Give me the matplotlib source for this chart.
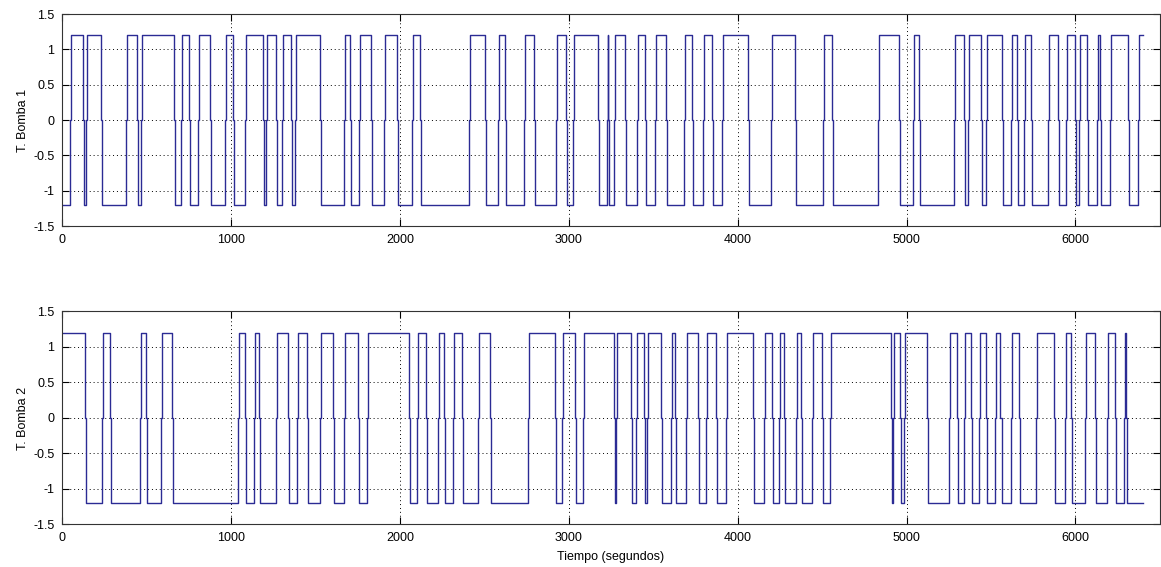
import numpy as np
import matplotlib.pyplot as plt

plt.rcParams["font.family"] = ["Liberation Sans", "DejaVu Sans"]

# switching instants (s); each one flips the pump state
bomba1_start = -1.2
bomba1_switch = [45, 126, 140, 231, 379, 444, 470, 661, 705, 754, 807, 878, 967,
                 1012, 1082, 1190, 1210, 1267, 1305, 1358, 1381, 1528, 1668, 1703,
                 1760, 1829, 1904, 1981, 2070, 2122, 2412, 2502, 2581, 2621, 2737,
                 2793, 2925, 2984, 3027, 3172, 3224, 3232, 3270, 3331, 3405, 3450,
                 3511, 3578, 3681, 3730, 3793, 3848, 3908, 4060, 4198, 4342, 4506,
                 4557, 4833, 4956, 5039, 5074, 5279, 5338, 5366, 5443, 5469, 5565,
                 5619, 5654, 5698, 5739, 5838, 5899, 5946, 5998, 6021, 6069, 6126,
                 6144, 6205, 6311, 6369]

bomba2_start = 1.2
bomba2_switch = [138, 237, 282, 460, 495, 588, 653, 1042, 1083, 1137, 1164, 1265,
                 1338, 1391, 1449, 1526, 1604, 1668, 1754, 1808, 2054, 2100, 2153,
                 2226, 2262, 2313, 2368, 2461, 2532, 2761, 2919, 2958, 3037, 3087,
                 3268, 3280, 3367, 3400, 3446, 3466, 3545, 3606, 3627, 3693, 3766,
                 3815, 3870, 3933, 4091, 4154, 4206, 4247, 4277, 4344, 4375, 4439,
                 4498, 4547, 4908, 4922, 4960, 4987, 5119, 5250, 5297, 5342, 5380,
                 5427, 5473, 5526, 5556, 5617, 5664, 5769, 5871, 5940, 5974, 6055,
                 6118, 6187, 6232, 6290, 6298]

t_end = 6400
x_ticks = [0, 1000, 2000, 3000, 4000, 5000, 6000]
y_ticks = [-1.5, -1, -0.5, 0, 0.5, 1, 1.5]
y_labels = ["T. Bomba 1", "T. Bomba 2"]
x_label = "Tiempo (segundos)"


def build_trace(start, switches, t_end, dt=6):
    """Square wave that passes through 0 at each switch."""
    t = [0]
    y = [start]
    level = start
    for s in switches:
        t += [s, s, s + dt, s + dt]
        y += [level, 0, 0, -level]
        level = -level
    t.append(t_end)
    y.append(level)
    return np.array(t), np.array(y)


fig = plt.figure(figsize=(11.61, 5.67), dpi=100)
ax1 = fig.add_axes([0.0534, 0.6014, 0.9457, 0.3739])
ax2 = fig.add_axes([0.0534, 0.0750, 0.9457, 0.3757])

traces = [(bomba1_start, bomba1_switch), (bomba2_start, bomba2_switch)]
for ax, (start, sw), lab in zip([ax1, ax2], traces, y_labels):
    t, y = build_trace(start, sw, t_end)
    ax.plot(t, y, color="#2b2b94", linewidth=1.0)
    ax.set_xlim(0, 6500)
    ax.set_ylim(-1.5, 1.5)
    ax.set_xticks(x_ticks)
    ax.set_yticks(y_ticks)
    ax.set_yticklabels(["-1.5", "-1", "-0.5", "0", "0.5", "1", "1.5"])
    ax.grid(True, linestyle=(0, (1, 3)), color="black", linewidth=0.7)
    ax.tick_params(direction="in", top=True, right=True, length=5,
                   labelsize=9, pad=5.5)
    for sp in ax.spines.values():
        sp.set_color("#333333")
        sp.set_linewidth(0.8)
    ax.set_ylabel(lab, fontsize=9, labelpad=3)

ax2.set_xlabel(x_label, fontsize=9, labelpad=5)

plt.savefig("out.png", dpi=100)
plt.close()
